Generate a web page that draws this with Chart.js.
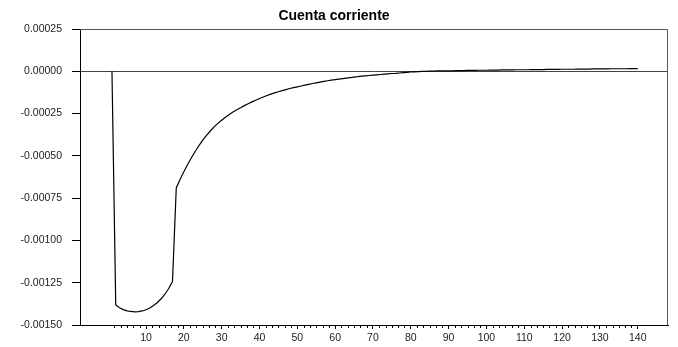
<!DOCTYPE html>
<html>
<head>
<meta charset="utf-8">
<script src="https://cdn.jsdelivr.net/npm/chart.js@4/dist/chart.umd.min.js"></script>
<style>
  html, body { margin: 0; padding: 0; background: #fff; }
  #wrap { width: 678px; height: 347px; }
</style>
</head>
<body>
<div id="wrap"><canvas id="c" width="678" height="347"></canvas></div>
<script>
// Impulse response of the current account, periods 1..140
const chartTitle = 'Cuenta corriente';

const cuentaCorriente = [
  0.000000, -0.001382, -0.001398, -0.001409, -0.001416, -0.001420, -0.001422, -0.001421, -0.001417, -0.001410,
  -0.001399, -0.001385, -0.001367, -0.001345, -0.001318, -0.001284, -0.001243, -0.000690, -0.000640, -0.000594,
  -0.000551, -0.000511, -0.000474, -0.000439, -0.000407, -0.000379, -0.000353, -0.000329, -0.000308, -0.000289,
  -0.000272, -0.000256, -0.000241, -0.000228, -0.000215, -0.000203, -0.000192, -0.000181, -0.000171, -0.000161,
  -0.000152, -0.000143, -0.000135, -0.000128, -0.000121, -0.000114, -0.000108, -0.000102, -0.000097, -0.000092,
  -0.000087, -0.000082, -0.000077, -0.000072, -0.000068, -0.000064, -0.000060, -0.000056, -0.000052, -0.000049,
  -0.000046, -0.000043, -0.000040, -0.000037, -0.000034, -0.000032, -0.000029, -0.000027, -0.000025, -0.000023,
  -0.000021, -0.000019, -0.000017, -0.000015, -0.000013, -0.000012, -0.000010, -0.000008, -0.000006, -0.000004,
  -0.000003, -0.000002, -0.000001, 0.000000, 0.000001, 0.000001, 0.000002, 0.000002, 0.000003, 0.000003,
  0.000003, 0.000004, 0.000004, 0.000004, 0.000005, 0.000005, 0.000005, 0.000006, 0.000006, 0.000006,
  0.000007, 0.000007, 0.000007, 0.000008, 0.000008, 0.000008, 0.000008, 0.000009, 0.000009, 0.000009,
  0.000009, 0.000010, 0.000010, 0.000010, 0.000010, 0.000011, 0.000011, 0.000011, 0.000011, 0.000012,
  0.000012, 0.000012, 0.000012, 0.000013, 0.000013, 0.000013, 0.000013, 0.000014, 0.000014, 0.000014,
  0.000014, 0.000014, 0.000015, 0.000015, 0.000015, 0.000015, 0.000015, 0.000016, 0.000016, 0.000016
];

// Period numbers matching the series above
const periods = cuentaCorriente.map((_, i) => i + 1);

// Labelled ticks
const xMajorTicks = [10, 20, 30, 40, 50, 60, 70, 80, 90, 100, 110, 120, 130, 140];
const yTicks = [-0.0015, -0.00125, -0.001, -0.00075, -0.0005, -0.00025, 0, 0.00025];

const FONT = 'Liberation Sans, Arial, Helvetica, sans-serif';

// Frame on the top and right of the plot, plus the short minor ticks on the period axis
const framePlugin = {
  id: 'frame',
  afterDraw(chart) {
    const { ctx, chartArea: a, scales } = chart;
    ctx.save();
    ctx.strokeStyle = '#555';
    ctx.lineWidth = 1;
    ctx.beginPath();
    ctx.moveTo(a.left, a.top + 0.5);
    ctx.lineTo(a.right - 0.5, a.top + 0.5);
    ctx.lineTo(a.right - 0.5, a.bottom);
    ctx.stroke();

    const xs = scales.x;
    ctx.strokeStyle = '#000';
    ctx.beginPath();
    for (let k = 1; k <= 84; k++) {
      if (k % 6 === 0) continue;
      const px = Math.round(xs.getPixelForValue(k * 10 / 6)) + 0.5;
      ctx.moveTo(px, a.bottom);
      ctx.lineTo(px, a.bottom + 3);
    }
    ctx.stroke();
    ctx.restore();
  }
};

new Chart(document.getElementById('c'), {
  type: 'line',
  data: {
    datasets: [{
      data: periods.map((p, i) => ({ x: p, y: cuentaCorriente[i] })),
      borderColor: '#000',
      borderWidth: 1.2,
      pointRadius: 0,
      tension: 0,
      fill: false
    }]
  },
  options: {
    responsive: false,
    animation: false,
    layout: { padding: { left: 0, right: 10, top: 0, bottom: 0 } },
    plugins: {
      legend: { display: false },
      tooltip: { enabled: false },
      title: {
        display: true,
        text: chartTitle,
        color: '#000',
        font: { family: FONT, size: 14, weight: 'bold' },
        padding: { top: 8.2, bottom: 4 }
      }
    },
    scales: {
      x: {
        type: 'linear',
        min: -7.45,
        max: 148,
        afterBuildTicks(scale) {
          scale.ticks = xMajorTicks.map(v => ({ value: v }));
        },
        afterFit(scale) { scale.height = 22; },
        grid: {
          drawOnChartArea: false,
          drawTicks: true,
          tickLength: 4,
          tickColor: '#000'
        },
        border: { display: true, color: '#000', width: 1 },
        ticks: {
          color: '#222',
          padding: 3,
          maxRotation: 0,
          autoSkip: false,
          font: { family: FONT, size: 10.5 },
          callback: v => String(v)
        }
      },
      y: {
        type: 'linear',
        min: -0.0015,
        max: 0.00025,
        afterBuildTicks(scale) {
          scale.ticks = yTicks.map(v => ({ value: v }));
        },
        afterFit(scale) { scale.width = 80; },
        grid: {
          drawOnChartArea: true,
          color: ctx => (ctx.tick && Math.abs(ctx.tick.value) < 1e-12) ? '#444' : 'rgba(0,0,0,0)',
          lineWidth: 1,
          drawTicks: true,
          tickLength: 8,
          tickColor: '#000'
        },
        border: { display: true, color: '#000', width: 1 },
        ticks: {
          color: '#222',
          padding: 10,
          autoSkip: false,
          font: { family: FONT, size: 10.5 },
          callback: v => v.toFixed(5)
        }
      }
    }
  },
  plugins: [framePlugin]
});
</script>
</body>
</html>
